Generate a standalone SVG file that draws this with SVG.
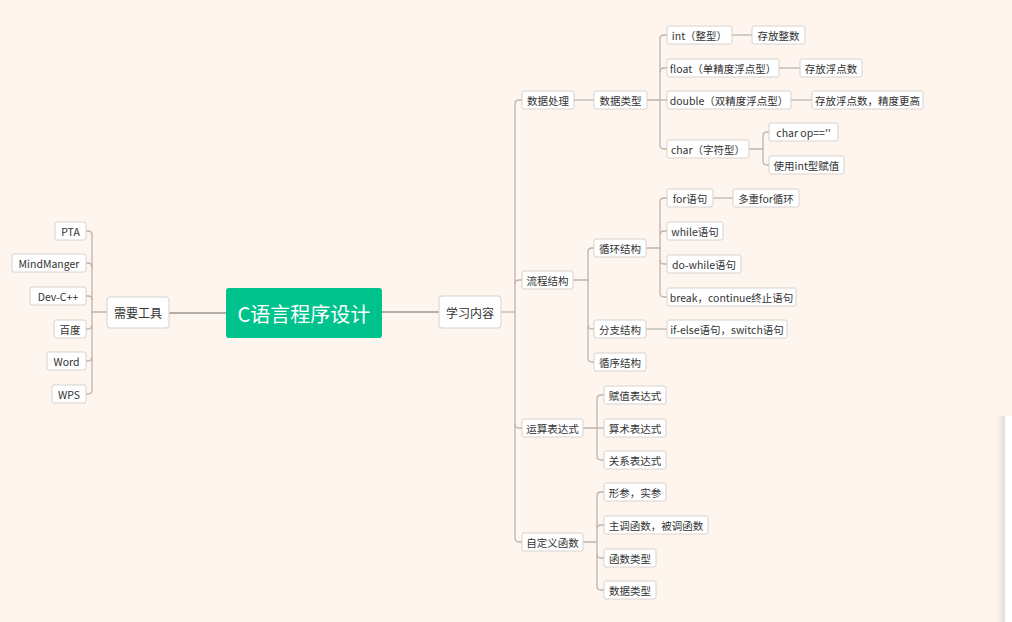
<svg xmlns="http://www.w3.org/2000/svg" width="1012" height="622" viewBox="0 0 1012 622">
<style>
.bg{fill:#fdf5ee}
.n rect{fill:#ffffff;stroke:#d8d2cd;stroke-width:1}
.n text{font-family:"Noto Sans CJK SC","Noto Sans",sans-serif;font-size:10.5px;fill:#333333;text-anchor:middle;dominant-baseline:central}
.m text{font-size:12px}
.root rect{fill:#00c28d;stroke:none}
.root text{font-family:"Noto Sans CJK SC","Noto Sans",sans-serif;font-size:20px;fill:#ffffff;text-anchor:middle;dominant-baseline:central}
.c path{fill:none;stroke:#bcb5b0;stroke-width:1.3}
.c .thick{stroke:#b3ada8;stroke-width:2}
</style>
<defs>
<linearGradient id="sh" x1="0" y1="0" x2="1" y2="0">
<stop offset="0" stop-color="#e8e0da" stop-opacity="0"/>
<stop offset="1" stop-color="#e0d7d0" stop-opacity="1"/>
</linearGradient>
</defs>
<rect class="bg" x="0" y="0" width="1012" height="622"/>
<rect x="996" y="416" width="10" height="206" fill="url(#sh)"/>
<rect x="1005" y="416" width="7" height="206" fill="#ffffff"/>

<g id="connectors" class="c">
<path class="thick" d="M169 313 H226"/>
<path class="thick" d="M382 312 H439"/>
<path d="M107 312 H92 V235 Q92 231 88 231 H86"/>
<path d="M92 268 Q92 263 88 263 H86"/>
<path d="M92 300 Q92 296 88 296 H86"/>
<path d="M92 325 Q92 329 88 329 H86"/>
<path d="M92 357 Q92 361 88 361 H86"/>
<path d="M92 312 V390 Q92 394 88 394 H86"/>
<path d="M501 312 H515"/>
<path d="M515 312 V104 Q515 100 519 100 H522"/>
<path d="M515 284 Q515 280 519 280 H522"/>
<path d="M515 312 V538 Q515 542 519 542 H522"/>
<path d="M515 424 Q515 428 519 428 H522"/>
<path d="M574 100 H594"/>
<path d="M647 100 H660 V39 Q660 35 664 35 H667"/>
<path d="M660 72 Q660 68 664 68 H667"/>
<path d="M660 100 H667"/>
<path d="M660 100 V145 Q660 149 664 149 H667"/>
<path d="M732 35 H752"/>
<path d="M779 68 H800"/>
<path d="M791 100 H812"/>
<path d="M749 149 H763 V136 Q763 132 767 132 H769"/>
<path d="M763 149 V161 Q763 165 767 165 H769"/>
<path d="M573 280 H588 V252 Q588 248 592 248 H594"/>
<path d="M588 280 V325 Q588 329 592 329 H594"/>
<path d="M588 325 V358 Q588 362 592 362 H594"/>
<path d="M646 248 H660 V202 Q660 198 664 198 H667"/>
<path d="M660 235 Q660 231 664 231 H667"/>
<path d="M660 248 V260 Q660 264 664 264 H667"/>
<path d="M660 260 V293 Q660 297 664 297 H667"/>
<path d="M713 198 H733"/>
<path d="M646 329 H667"/>
<path d="M583 428 H597 V399 Q597 395 601 395 H604"/>
<path d="M597 428 H604"/>
<path d="M597 428 V456 Q597 460 601 460 H604"/>
<path d="M583 542 H597 V496 Q597 492 601 492 H604"/>
<path d="M597 529 Q597 525 601 525 H604"/>
<path d="M597 542 V554 Q597 558 601 558 H604"/>
<path d="M597 554 V586 Q597 590 601 590 H604"/>
</g>

<g id="root" class="root"><rect x="226" y="288" width="156" height="50" rx="3"/><text x="304" y="313">C语言程序设计</text></g>

<g id="tools" class="n m"><rect x="107" y="297" width="62" height="31" rx="3"/><text x="138" y="312.5">需要工具</text></g>
<g id="pta" class="n"><rect x="55" y="222" width="31" height="18" rx="2"/><text x="70.5" y="231">PTA</text></g>
<g id="mindmanger" class="n"><rect x="12" y="254" width="74" height="18" rx="2"/><text x="49" y="263">MindManger</text></g>
<g id="devcpp" class="n"><rect x="30" y="287" width="56" height="18" rx="2"/><text x="58" y="296">Dev-C++</text></g>
<g id="baidu" class="n"><rect x="54" y="320" width="32" height="18" rx="2"/><text x="70" y="329">百度</text></g>
<g id="word" class="n"><rect x="47" y="352" width="39" height="18" rx="2"/><text x="66.5" y="361">Word</text></g>
<g id="wps" class="n"><rect x="52" y="385" width="34" height="18" rx="2"/><text x="69" y="394">WPS</text></g>

<g id="learn" class="n m"><rect x="439" y="296" width="62" height="32" rx="3"/><text x="470" y="312">学习内容</text></g>

<g id="dataproc" class="n"><rect x="522" y="91" width="52" height="18" rx="2"/><text x="548" y="100">数据处理</text></g>
<g id="datatype" class="n"><rect x="594" y="91" width="53" height="18" rx="2"/><text x="620.5" y="100">数据类型</text></g>
<g id="int" class="n"><rect x="667" y="26" width="65" height="18" rx="2"/><text x="699.5" y="35">int（整型）</text></g>
<g id="intstore" class="n"><rect x="752" y="26" width="53" height="18" rx="2"/><text x="778.5" y="35">存放整数</text></g>
<g id="float" class="n"><rect x="667" y="59" width="112" height="18" rx="2"/><text x="723" y="68">float（单精度浮点型）</text></g>
<g id="floatstore" class="n"><rect x="800" y="59" width="62" height="18" rx="2"/><text x="831" y="68">存放浮点数</text></g>
<g id="double" class="n"><rect x="667" y="91" width="124" height="18" rx="2"/><text x="729" y="100">double（双精度浮点型）</text></g>
<g id="doublestore" class="n"><rect x="812" y="91" width="111" height="18" rx="2"/><text x="867.5" y="100">存放浮点数，精度更高</text></g>
<g id="char" class="n"><rect x="667" y="140" width="82" height="18" rx="2"/><text x="708" y="149">char（字符型）</text></g>
<g id="charop" class="n"><rect x="769" y="123" width="69" height="18" rx="2"/><text x="803.5" y="132">char op==''</text></g>
<g id="charint" class="n"><rect x="769" y="156" width="75" height="18" rx="2"/><text x="806.5" y="165">使用int型赋值</text></g>

<g id="flow" class="n"><rect x="522" y="271" width="51" height="18" rx="2"/><text x="547.5" y="280">流程结构</text></g>
<g id="loop" class="n"><rect x="594" y="239" width="52" height="18" rx="2"/><text x="620" y="248">循环结构</text></g>
<g id="for" class="n"><rect x="667" y="189" width="46" height="18" rx="2"/><text x="690" y="198">for语句</text></g>
<g id="nestedfor" class="n"><rect x="733" y="189" width="66" height="18" rx="2"/><text x="766" y="198">多重for循环</text></g>
<g id="while" class="n"><rect x="667" y="222" width="56" height="18" rx="2"/><text x="695" y="231">while语句</text></g>
<g id="dowhile" class="n"><rect x="667" y="255" width="74" height="18" rx="2"/><text x="704" y="264">do-while语句</text></g>
<g id="break" class="n"><rect x="667" y="288" width="129" height="18" rx="2"/><text x="731.5" y="297">break，continue终止语句</text></g>
<g id="branch" class="n"><rect x="594" y="320" width="52" height="18" rx="2"/><text x="620" y="329">分支结构</text></g>
<g id="ifelse" class="n"><rect x="667" y="320" width="120" height="18" rx="2"/><text x="727" y="329">if-else语句，switch语句</text></g>
<g id="seq" class="n"><rect x="594" y="353" width="52" height="18" rx="2"/><text x="620" y="362">循序结构</text></g>

<g id="expr" class="n"><rect x="522" y="419" width="61" height="18" rx="2"/><text x="552.5" y="428">运算表达式</text></g>
<g id="assign" class="n"><rect x="604" y="386" width="62" height="18" rx="2"/><text x="635" y="395">赋值表达式</text></g>
<g id="arith" class="n"><rect x="604" y="419" width="62" height="18" rx="2"/><text x="635" y="428">算术表达式</text></g>
<g id="relation" class="n"><rect x="604" y="451" width="62" height="18" rx="2"/><text x="635" y="460">关系表达式</text></g>

<g id="func" class="n"><rect x="522" y="533" width="61" height="18" rx="2"/><text x="552.5" y="542">自定义函数</text></g>
<g id="params" class="n"><rect x="604" y="483" width="62" height="18" rx="2"/><text x="635" y="492">形参，实参</text></g>
<g id="caller" class="n"><rect x="604" y="516" width="104" height="18" rx="2"/><text x="656" y="525">主调函数，被调函数</text></g>
<g id="functype" class="n"><rect x="604" y="549" width="52" height="18" rx="2"/><text x="630" y="558">函数类型</text></g>
<g id="datatype2" class="n"><rect x="604" y="581" width="52" height="18" rx="2"/><text x="630" y="590">数据类型</text></g>
</svg>
